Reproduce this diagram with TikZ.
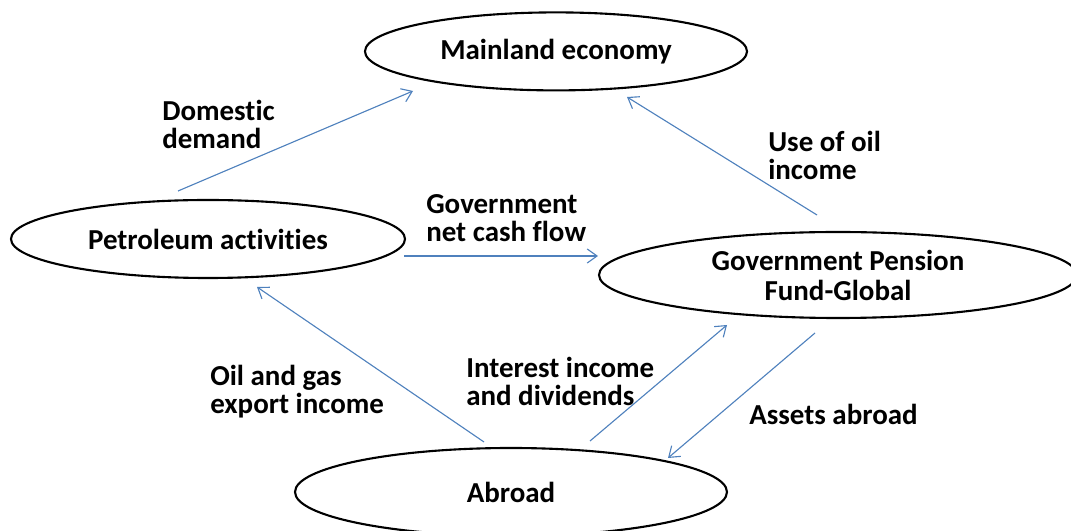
\documentclass[tikz,border=0pt]{standalone}
\usepackage{fontspec}
\setmainfont[Ligatures={NoCommon,NoRare,NoDiscretionary}]{Carlito}
\usetikzlibrary{shapes.geometric,arrows.meta}
\definecolor{flowblue}{RGB}{79,129,189}

\begin{document}
\begin{tikzpicture}[
  Sector/.style={draw, ellipse, line width=1.5pt, inner sep=0pt, align=center, font=\bfseries\fontsize{20.6}{21.3}\selectfont},
  Flow/.style={flowblue, line width=0.8pt, -{Straight Barb[length=7pt,width=10pt]}},
  Tag/.style={anchor=west, inner sep=0pt, align=left, font=\bfseries\fontsize{20.6}{19.9}\selectfont}]
\useasboundingbox (0,0) rectangle (26.775,13.275);
\node[Sector, minimum width=09.55cm, minimum height=1.95cm] (Mainland) at (13.900,11.990) {Mainland economy};
\node[Sector, minimum width=09.85cm, minimum height=1.95cm] (Petroleum) at (05.200,07.300) {Petroleum activities};
\node[Sector, minimum width=11.95cm, minimum height=2.15cm] (Fund) at (20.950,06.400) {Government Pension\\Fund-Global};
\node[Sector, minimum width=10.80cm, minimum height=2.20cm] (Abroad) at (12.775,00.975) {Abroad};
\coordinate (DemandA) at (04.450,08.500); \coordinate (DemandB) at (10.325,11.000); \draw[Flow] (DemandA) -- (DemandB);
\coordinate (UseA) at (20.425,07.900);    \coordinate (UseB) at (15.675,10.850);    \draw[Flow] (UseA) -- (UseB);
\coordinate (CashA) at (10.100,06.875);   \coordinate (CashB) at (14.950,06.875);   \draw[Flow] (CashA) -- (CashB);
\coordinate (ExportA) at (12.100,02.225); \coordinate (ExportB) at (06.425,06.100); \draw[Flow] (ExportA) -- (ExportB);
\coordinate (InterestA) at (14.750,02.250); \coordinate (InterestB) at (18.175,05.150); \draw[Flow] (InterestA) -- (InterestB);
\coordinate (AssetsA) at (20.375,04.950); \coordinate (AssetsB) at (16.700,01.825); \draw[Flow] (AssetsA) -- (AssetsB);
\node[Tag] (Demand) at (04.050,10.175) {Domestic\\demand};
\node[Tag] (Use) at (19.200,09.400) {Use of oil\\income};
\node[Tag] (Cash) at (10.650,07.810) {Government\\net cash flow};
\node[Tag] (Export) at (05.250,03.490) {Oil and gas\\export income};
\node[Tag] (Interest) at (11.650,03.740) {Interest income\\and dividends};
\node[Tag] (Assets) at (18.725,02.925) {Assets abroad};
\end{tikzpicture}
\end{document}
